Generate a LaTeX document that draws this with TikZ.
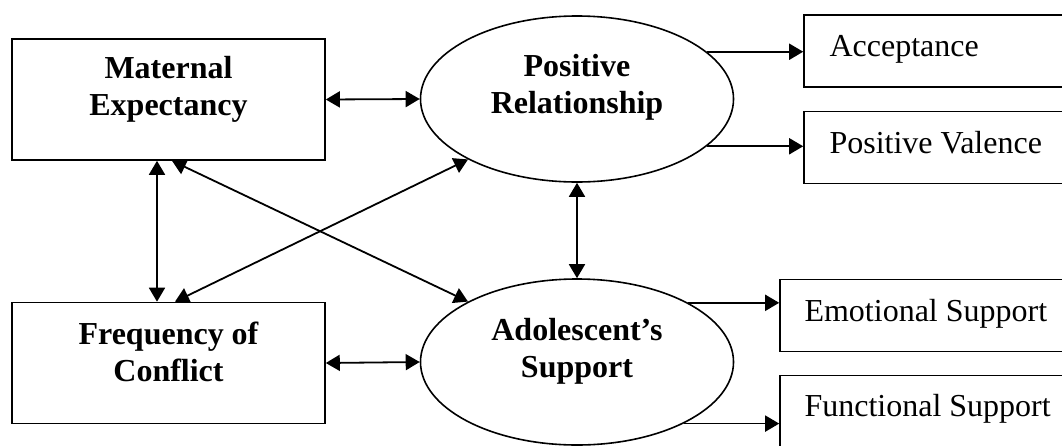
\documentclass[tikz,border=0pt]{standalone}
\usepackage{fontspec}
\setmainfont{Liberation Serif}
\usetikzlibrary{arrows.meta,shapes.geometric,calc}
\tikzset{
  varbox/.style={rectangle,draw,line width=1.6pt,minimum width=313pt,minimum height=121pt},
  latent/.style={ellipse,draw,line width=1.6pt,minimum width=313pt,minimum height=166pt},
  itembox/.style={rectangle,draw,line width=1.6pt,minimum width=320pt,minimum height=72pt},
  boldtext/.style={font=\fontsize{32}{37}\selectfont\bfseries,align=center},
  itemtext/.style={font=\fontsize{32}{37}\selectfont,anchor=base west},
  link/.style={line width=1.8pt,-{Triangle[length=14pt,width=16pt]}},
  dlink/.style={line width=1.8pt,{Triangle[length=14pt,width=16pt]}-{Triangle[length=14pt,width=16pt]}},
}
\begin{document}
\begin{tikzpicture}[x=1pt,y=-1pt]
      \useasboundingbox (0,0) rectangle (1062,445);
      \clip (0,0) rectangle (1062,445);
      \node[varbox] (me) at (168.5,99.5) {};
      \node[varbox] (fc) at (168.5,363) {};
      \node[latent] (pr) at (577,99) {};
      \node[latent] (as) at (577,362) {};
      \node[itembox] (acc) at (964,51) {};
      \node[itembox] (pv) at (964,147.5) {};
      \node[itembox] (es) at (940,315.5) {};
      \node[itembox] (fs) at (940,411.5) {};

      \node[boldtext] (me-text) at (168.5,89) {Maternal\\Expectancy};
      \node[boldtext] (fc-text) at (168.5,352) {Frequency of\\Conflict};
      \node[boldtext] (pr-text) at (577,87) {Positive\\Relationship};
      \node[boldtext] (as-text) at (577,351) {Adolescent’s\\Support};
      \node[itemtext] (acc-text) at (826,56) {Acceptance};
      \node[itemtext] (pv-text) at (826,153) {Positive Valence};
      \node[itemtext] (es-text) at (801,321) {Emotional Support};
      \node[itemtext] (fs-text) at (801,416) {Functional Support};

      \draw[dlink] (me.east) -- (pr.west);
      \draw[dlink] (fc.east) -- (as.west);
      \draw[dlink] ($(me.south)+(-11.5,0)$) -- ($(fc.north)+(-11.5,0)$);
      \draw[dlink] ($(me.south)+(3.5,0)$) -- (as.151);
      \draw[dlink] ($(fc.north)+(6.5,0)$) -- (pr.209);
      \draw[dlink] (pr.south) -- (as.north);
      \draw[link] (pr.20) -- (pr.20 -| acc.west);
      \draw[link] (pr.-20) -- (pr.-20 -| pv.west);
      \draw[link] (as.28) -- (as.28 -| es.west);
      \draw[link] (as.-30) -- (as.-30 -| fs.west);
\end{tikzpicture}
\end{document}
